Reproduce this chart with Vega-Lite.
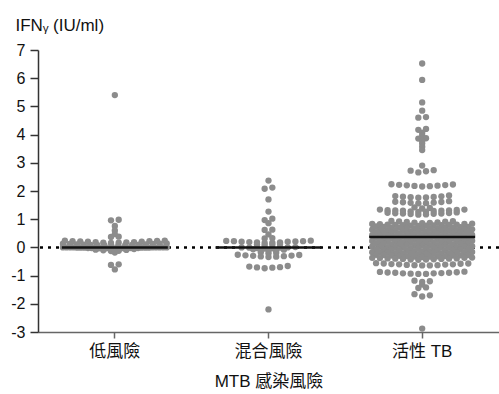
{
  "$schema": "https://vega.github.io/schema/vega-lite/v6.json",
  "width": 461,
  "height": 282,
  "autosize": {"type": "none"},
  "padding": {"left": 38, "top": 50, "right": 0, "bottom": 62},
  "background": "white",
  "config": {
    "view": {"stroke": null},
    "font": "Liberation Sans, DejaVu Sans, Noto Sans CJK TC",
    "axisY": {
      "grid": false, "labelOverlap": false, "labelFlush": false,
      "labelFontSize": 16, "labelColor": "#111", "labelPadding": 5, "tickSize": 8,
      "tickColor": "#333", "domainColor": "#333", "domainWidth": 1.5, "tickWidth": 1.5,
      "titleAngle": 0, "titleAlign": "left", "titleBaseline": "alphabetic",
      "titleX": -23, "titleY": -20, "titleFontSize": 17, "titleFontWeight": "normal", "titleColor": "#111"
    },
    "axisX": {
      "labelAngle": 0, "labelFontSize": 17, "labelColor": "#111",
      "labelPadding": 5, "tickSize": 6, "tickColor": "#666", "domainColor": "#666",
      "domainWidth": 1.5, "tickWidth": 1.5,
      "titleFontSize": 17, "titleFontWeight": "normal", "titleColor": "#111", "titlePadding": 14
    }
  },
  "data": {
    "values": [
      {"g": "低風險", "v": 5.4},
      {"g": "低風險", "v": 0.98}, {"g": "低風險", "v": 0.96},
      {"g": "低風險", "v": 0.76}, {"g": "低風險", "v": 0.6}, {"g": "低風險", "v": 0.47},
      {"g": "低風險", "v": 0.38}, {"g": "低風險", "v": 0.37},
      {"g": "低風險", "v": 0.16}, {"g": "低風險", "v": 0.17}, {"g": "低風險", "v": 0.17}, {"g": "低風險", "v": 0.18},
      {"g": "低風險", "v": 0.19}, {"g": "低風險", "v": 0.19}, {"g": "低風險", "v": 0.2}, {"g": "低風險", "v": 0.2},
      {"g": "低風險", "v": 0.21}, {"g": "低風險", "v": 0.22}, {"g": "低風險", "v": 0.22}, {"g": "低風險", "v": 0.23},
      {"g": "低風險", "v": 0.24}, {"g": "低風險", "v": 0.24},
      {"g": "低風險", "v": 0.06}, {"g": "低風險", "v": 0.07}, {"g": "低風險", "v": 0.07}, {"g": "低風險", "v": 0.08},
      {"g": "低風險", "v": 0.08}, {"g": "低風險", "v": 0.09}, {"g": "低風險", "v": 0.09}, {"g": "低風險", "v": 0.1},
      {"g": "低風險", "v": 0.1}, {"g": "低風險", "v": 0.11}, {"g": "低風險", "v": 0.11}, {"g": "低風險", "v": 0.12},
      {"g": "低風險", "v": 0.12}, {"g": "低風險", "v": 0.13}, {"g": "低風險", "v": 0.13}, {"g": "低風險", "v": 0.14},
      {"g": "低風險", "v": -0.04}, {"g": "低風險", "v": -0.04}, {"g": "低風險", "v": -0.04}, {"g": "低風險", "v": -0.04},
      {"g": "低風險", "v": -0.03}, {"g": "低風險", "v": -0.03}, {"g": "低風險", "v": -0.03}, {"g": "低風險", "v": -0.03},
      {"g": "低風險", "v": -0.03}, {"g": "低風險", "v": -0.02}, {"g": "低風險", "v": -0.02}, {"g": "低風險", "v": -0.02},
      {"g": "低風險", "v": -0.02}, {"g": "低風險", "v": -0.02}, {"g": "低風險", "v": -0.02}, {"g": "低風險", "v": -0.01},
      {"g": "低風險", "v": -0.01}, {"g": "低風險", "v": -0.01}, {"g": "低風險", "v": -0.01}, {"g": "低風險", "v": -0.01},
      {"g": "低風險", "v": -0.01}, {"g": "低風險", "v": 0}, {"g": "低風險", "v": 0}, {"g": "低風險", "v": 0},
      {"g": "低風險", "v": 0}, {"g": "低風險", "v": 0}, {"g": "低風險", "v": 0}, {"g": "低風險", "v": 0},
      {"g": "低風險", "v": 0}, {"g": "低風險", "v": 0},
      {"g": "低風險", "v": -0.06}, {"g": "低風險", "v": -0.08}, {"g": "低風險", "v": -0.09},
      {"g": "低風險", "v": -0.1}, {"g": "低風險", "v": -0.12}, {"g": "低風險", "v": -0.13},
      {"g": "低風險", "v": -0.18},
      {"g": "低風險", "v": -0.6}, {"g": "低風險", "v": -0.62}, {"g": "低風險", "v": -0.78},

      {"g": "混合風險", "v": 2.37}, {"g": "混合風險", "v": 2.12}, {"g": "混合風險", "v": 2.08},
      {"g": "混合風險", "v": 1.7}, {"g": "混合風險", "v": 1.27},
      {"g": "混合風險", "v": 1.02}, {"g": "混合風險", "v": 0.97}, {"g": "混合風險", "v": 0.86},
      {"g": "混合風險", "v": 0.63}, {"g": "混合風險", "v": 0.62}, {"g": "混合風險", "v": 0.46},
      {"g": "混合風險", "v": 0.33}, {"g": "混合風險", "v": 0.32},
      {"g": "混合風險", "v": 0.16}, {"g": "混合風險", "v": 0.17}, {"g": "混合風險", "v": 0.18}, {"g": "混合風險", "v": 0.18},
      {"g": "混合風險", "v": 0.19}, {"g": "混合風險", "v": 0.2}, {"g": "混合風險", "v": 0.2}, {"g": "混合風險", "v": 0.21},
      {"g": "混合風險", "v": 0.22}, {"g": "混合風險", "v": 0.22}, {"g": "混合風險", "v": 0.23}, {"g": "混合風險", "v": 0.24},
      {"g": "混合風險", "v": 0.08}, {"g": "混合風險", "v": 0.1}, {"g": "混合風險", "v": 0.11}, {"g": "混合風險", "v": 0.12},
      {"g": "混合風險", "v": -0.04}, {"g": "混合風險", "v": -0.03}, {"g": "混合風險", "v": -0.02}, {"g": "混合風險", "v": -0.01},
      {"g": "混合風險", "v": -0.01}, {"g": "混合風險", "v": 0}, {"g": "混合風險", "v": 0}, {"g": "混合風險", "v": 0.01},
      {"g": "混合風險", "v": -0.07}, {"g": "混合風險", "v": -0.08}, {"g": "混合風險", "v": -0.1}, {"g": "混合風險", "v": -0.11},
      {"g": "混合風險", "v": -0.12},
      {"g": "混合風險", "v": -0.17}, {"g": "混合風險", "v": -0.19}, {"g": "混合風險", "v": -0.21},
      {"g": "混合風險", "v": -0.26}, {"g": "混合風險", "v": -0.27}, {"g": "混合風險", "v": -0.28}, {"g": "混合風險", "v": -0.29},
      {"g": "混合風險", "v": -0.3}, {"g": "混合風險", "v": -0.31}, {"g": "混合風險", "v": -0.32}, {"g": "混合風險", "v": -0.33},
      {"g": "混合風險", "v": -0.34},
      {"g": "混合風險", "v": -0.66}, {"g": "混合風險", "v": -0.68}, {"g": "混合風險", "v": -0.7},
      {"g": "混合風險", "v": -0.71}, {"g": "混合風險", "v": -0.72}, {"g": "混合風險", "v": -0.74},
      {"g": "混合風險", "v": -2.2},

      {"g": "活性 TB", "v": 6.52}, {"g": "活性 TB", "v": 5.94}, {"g": "活性 TB", "v": 5.14}, {"g": "活性 TB", "v": 4.85},
      {"g": "活性 TB", "v": 4.62}, {"g": "活性 TB", "v": 4.6}, {"g": "活性 TB", "v": 4.2}, {"g": "活性 TB", "v": 4.17},
      {"g": "活性 TB", "v": 4.07}, {"g": "活性 TB", "v": 3.96}, {"g": "活性 TB", "v": 3.87}, {"g": "活性 TB", "v": 3.86},
      {"g": "活性 TB", "v": 3.78}, {"g": "活性 TB", "v": 3.69}, {"g": "活性 TB", "v": 3.57}, {"g": "活性 TB", "v": 3.45},
      {"g": "活性 TB", "v": 2.9}, {"g": "活性 TB", "v": 2.66}, {"g": "活性 TB", "v": 2.7}, {"g": "活性 TB", "v": 2.72},
      {"g": "活性 TB", "v": 2.74},
      {"g": "活性 TB", "v": 2.16}, {"g": "活性 TB", "v": 2.17}, {"g": "活性 TB", "v": 2.18}, {"g": "活性 TB", "v": 2.19},
      {"g": "活性 TB", "v": 2.2}, {"g": "活性 TB", "v": 2.21}, {"g": "活性 TB", "v": 2.22}, {"g": "活性 TB", "v": 2.23},
      {"g": "活性 TB", "v": 2.24},
      {"g": "活性 TB", "v": 1.76}, {"g": "活性 TB", "v": 1.77}, {"g": "活性 TB", "v": 1.78}, {"g": "活性 TB", "v": 1.79},
      {"g": "活性 TB", "v": 1.8}, {"g": "活性 TB", "v": 1.81}, {"g": "活性 TB", "v": 1.82}, {"g": "活性 TB", "v": 1.84},
      {"g": "活性 TB", "v": 1.56}, {"g": "活性 TB", "v": 1.57}, {"g": "活性 TB", "v": 1.58}, {"g": "活性 TB", "v": 1.59},
      {"g": "活性 TB", "v": 1.6}, {"g": "活性 TB", "v": 1.61}, {"g": "活性 TB", "v": 1.62}, {"g": "活性 TB", "v": 1.64},
      {"g": "活性 TB", "v": 1.38}, {"g": "活性 TB", "v": 1.4}, {"g": "活性 TB", "v": 1.42},
      {"g": "活性 TB", "v": 1.26}, {"g": "活性 TB", "v": 1.27}, {"g": "活性 TB", "v": 1.28}, {"g": "活性 TB", "v": 1.29},
      {"g": "活性 TB", "v": 1.3}, {"g": "活性 TB", "v": 1.3}, {"g": "活性 TB", "v": 1.31}, {"g": "活性 TB", "v": 1.31},
      {"g": "活性 TB", "v": 1.32}, {"g": "活性 TB", "v": 1.33}, {"g": "活性 TB", "v": 1.34}, {"g": "活性 TB", "v": 1.34},
      {"g": "活性 TB", "v": 1.16}, {"g": "活性 TB", "v": 1.17}, {"g": "活性 TB", "v": 1.18}, {"g": "活性 TB", "v": 1.19},
      {"g": "活性 TB", "v": 1.2}, {"g": "活性 TB", "v": 1.2}, {"g": "活性 TB", "v": 1.21}, {"g": "活性 TB", "v": 1.22},
      {"g": "活性 TB", "v": 1.23}, {"g": "活性 TB", "v": 1.24},
      {"g": "活性 TB", "v": 0.86}, {"g": "活性 TB", "v": 0.87}, {"g": "活性 TB", "v": 0.88}, {"g": "活性 TB", "v": 0.89},
      {"g": "活性 TB", "v": 0.9}, {"g": "活性 TB", "v": 0.91}, {"g": "活性 TB", "v": 0.92}, {"g": "活性 TB", "v": 0.93},
      {"g": "活性 TB", "v": 0.94},
      {"g": "活性 TB", "v": 0.76}, {"g": "活性 TB", "v": 0.77}, {"g": "活性 TB", "v": 0.77}, {"g": "活性 TB", "v": 0.78},
      {"g": "活性 TB", "v": 0.79}, {"g": "活性 TB", "v": 0.79}, {"g": "活性 TB", "v": 0.8}, {"g": "活性 TB", "v": 0.8},
      {"g": "活性 TB", "v": 0.81}, {"g": "活性 TB", "v": 0.81}, {"g": "活性 TB", "v": 0.82}, {"g": "活性 TB", "v": 0.83},
      {"g": "活性 TB", "v": 0.83}, {"g": "活性 TB", "v": 0.84},
      {"g": "活性 TB", "v": 0.66}, {"g": "活性 TB", "v": 0.67}, {"g": "活性 TB", "v": 0.67}, {"g": "活性 TB", "v": 0.68},
      {"g": "活性 TB", "v": 0.69}, {"g": "活性 TB", "v": 0.69}, {"g": "活性 TB", "v": 0.7},
      {"g": "活性 TB", "v": 0.71}, {"g": "活性 TB", "v": 0.71}, {"g": "活性 TB", "v": 0.72}, {"g": "活性 TB", "v": 0.73},
      {"g": "活性 TB", "v": 0.73}, {"g": "活性 TB", "v": 0.74},
      {"g": "活性 TB", "v": 0.56}, {"g": "活性 TB", "v": 0.57}, {"g": "活性 TB", "v": 0.57}, {"g": "活性 TB", "v": 0.58},
      {"g": "活性 TB", "v": 0.59}, {"g": "活性 TB", "v": 0.59}, {"g": "活性 TB", "v": 0.6}, {"g": "活性 TB", "v": 0.6},
      {"g": "活性 TB", "v": 0.61}, {"g": "活性 TB", "v": 0.61}, {"g": "活性 TB", "v": 0.62}, {"g": "活性 TB", "v": 0.63},
      {"g": "活性 TB", "v": 0.63}, {"g": "活性 TB", "v": 0.64},
      {"g": "活性 TB", "v": 0.46}, {"g": "活性 TB", "v": 0.47}, {"g": "活性 TB", "v": 0.47}, {"g": "活性 TB", "v": 0.48},
      {"g": "活性 TB", "v": 0.49}, {"g": "活性 TB", "v": 0.49}, {"g": "活性 TB", "v": 0.5},
      {"g": "活性 TB", "v": 0.51}, {"g": "活性 TB", "v": 0.51}, {"g": "活性 TB", "v": 0.52}, {"g": "活性 TB", "v": 0.53},
      {"g": "活性 TB", "v": 0.53}, {"g": "活性 TB", "v": 0.54},
      {"g": "活性 TB", "v": 0.36}, {"g": "活性 TB", "v": 0.37}, {"g": "活性 TB", "v": 0.37}, {"g": "活性 TB", "v": 0.38},
      {"g": "活性 TB", "v": 0.39}, {"g": "活性 TB", "v": 0.39}, {"g": "活性 TB", "v": 0.4}, {"g": "活性 TB", "v": 0.4},
      {"g": "活性 TB", "v": 0.41}, {"g": "活性 TB", "v": 0.41}, {"g": "活性 TB", "v": 0.42}, {"g": "活性 TB", "v": 0.43},
      {"g": "活性 TB", "v": 0.43}, {"g": "活性 TB", "v": 0.44},
      {"g": "活性 TB", "v": 0.26}, {"g": "活性 TB", "v": 0.27}, {"g": "活性 TB", "v": 0.27}, {"g": "活性 TB", "v": 0.28},
      {"g": "活性 TB", "v": 0.29}, {"g": "活性 TB", "v": 0.29}, {"g": "活性 TB", "v": 0.3},
      {"g": "活性 TB", "v": 0.31}, {"g": "活性 TB", "v": 0.31}, {"g": "活性 TB", "v": 0.32}, {"g": "活性 TB", "v": 0.33},
      {"g": "活性 TB", "v": 0.33}, {"g": "活性 TB", "v": 0.34},
      {"g": "活性 TB", "v": 0.16}, {"g": "活性 TB", "v": 0.17}, {"g": "活性 TB", "v": 0.17}, {"g": "活性 TB", "v": 0.18},
      {"g": "活性 TB", "v": 0.19}, {"g": "活性 TB", "v": 0.19}, {"g": "活性 TB", "v": 0.2}, {"g": "活性 TB", "v": 0.2},
      {"g": "活性 TB", "v": 0.21}, {"g": "活性 TB", "v": 0.21}, {"g": "活性 TB", "v": 0.22}, {"g": "活性 TB", "v": 0.23},
      {"g": "活性 TB", "v": 0.23}, {"g": "活性 TB", "v": 0.24},
      {"g": "活性 TB", "v": 0.06}, {"g": "活性 TB", "v": 0.07}, {"g": "活性 TB", "v": 0.07}, {"g": "活性 TB", "v": 0.08},
      {"g": "活性 TB", "v": 0.09}, {"g": "活性 TB", "v": 0.09}, {"g": "活性 TB", "v": 0.1},
      {"g": "活性 TB", "v": 0.11}, {"g": "活性 TB", "v": 0.11}, {"g": "活性 TB", "v": 0.12}, {"g": "活性 TB", "v": 0.13},
      {"g": "活性 TB", "v": 0.13}, {"g": "活性 TB", "v": 0.14},
      {"g": "活性 TB", "v": -0.04}, {"g": "活性 TB", "v": -0.03}, {"g": "活性 TB", "v": -0.03}, {"g": "活性 TB", "v": -0.02},
      {"g": "活性 TB", "v": -0.01}, {"g": "活性 TB", "v": -0.01}, {"g": "活性 TB", "v": 0}, {"g": "活性 TB", "v": 0},
      {"g": "活性 TB", "v": 0.01}, {"g": "活性 TB", "v": 0.01}, {"g": "活性 TB", "v": 0.02}, {"g": "活性 TB", "v": 0.03},
      {"g": "活性 TB", "v": 0.03}, {"g": "活性 TB", "v": 0.04},
      {"g": "活性 TB", "v": -0.06}, {"g": "活性 TB", "v": -0.07}, {"g": "活性 TB", "v": -0.07}, {"g": "活性 TB", "v": -0.08},
      {"g": "活性 TB", "v": -0.09}, {"g": "活性 TB", "v": -0.09}, {"g": "活性 TB", "v": -0.1},
      {"g": "活性 TB", "v": -0.11}, {"g": "活性 TB", "v": -0.11}, {"g": "活性 TB", "v": -0.12}, {"g": "活性 TB", "v": -0.13},
      {"g": "活性 TB", "v": -0.13}, {"g": "活性 TB", "v": -0.14},
      {"g": "活性 TB", "v": -0.16}, {"g": "活性 TB", "v": -0.17}, {"g": "活性 TB", "v": -0.17}, {"g": "活性 TB", "v": -0.18},
      {"g": "活性 TB", "v": -0.19}, {"g": "活性 TB", "v": -0.19}, {"g": "活性 TB", "v": -0.2}, {"g": "活性 TB", "v": -0.2},
      {"g": "活性 TB", "v": -0.21}, {"g": "活性 TB", "v": -0.21}, {"g": "活性 TB", "v": -0.22}, {"g": "活性 TB", "v": -0.23},
      {"g": "活性 TB", "v": -0.23}, {"g": "活性 TB", "v": -0.24},
      {"g": "活性 TB", "v": -0.26}, {"g": "活性 TB", "v": -0.27}, {"g": "活性 TB", "v": -0.27}, {"g": "活性 TB", "v": -0.28},
      {"g": "活性 TB", "v": -0.29}, {"g": "活性 TB", "v": -0.29}, {"g": "活性 TB", "v": -0.3},
      {"g": "活性 TB", "v": -0.31}, {"g": "活性 TB", "v": -0.31}, {"g": "活性 TB", "v": -0.32}, {"g": "活性 TB", "v": -0.33},
      {"g": "活性 TB", "v": -0.33}, {"g": "活性 TB", "v": -0.34},
      {"g": "活性 TB", "v": -0.36}, {"g": "活性 TB", "v": -0.37}, {"g": "活性 TB", "v": -0.37}, {"g": "活性 TB", "v": -0.38},
      {"g": "活性 TB", "v": -0.39}, {"g": "活性 TB", "v": -0.39}, {"g": "活性 TB", "v": -0.4}, {"g": "活性 TB", "v": -0.4},
      {"g": "活性 TB", "v": -0.41}, {"g": "活性 TB", "v": -0.41}, {"g": "活性 TB", "v": -0.42}, {"g": "活性 TB", "v": -0.43},
      {"g": "活性 TB", "v": -0.43}, {"g": "活性 TB", "v": -0.44},
      {"g": "活性 TB", "v": -0.56}, {"g": "活性 TB", "v": -0.57}, {"g": "活性 TB", "v": -0.57}, {"g": "活性 TB", "v": -0.58},
      {"g": "活性 TB", "v": -0.59}, {"g": "活性 TB", "v": -0.6}, {"g": "活性 TB", "v": -0.6}, {"g": "活性 TB", "v": -0.61},
      {"g": "活性 TB", "v": -0.62}, {"g": "活性 TB", "v": -0.63}, {"g": "活性 TB", "v": -0.63}, {"g": "活性 TB", "v": -0.64},
      {"g": "活性 TB", "v": -0.64},
      {"g": "活性 TB", "v": -0.86}, {"g": "活性 TB", "v": -0.87}, {"g": "活性 TB", "v": -0.88}, {"g": "活性 TB", "v": -0.89},
      {"g": "活性 TB", "v": -0.9}, {"g": "活性 TB", "v": -0.9}, {"g": "活性 TB", "v": -0.91}, {"g": "活性 TB", "v": -0.92},
      {"g": "活性 TB", "v": -0.92}, {"g": "活性 TB", "v": -0.93}, {"g": "活性 TB", "v": -0.94}, {"g": "活性 TB", "v": -0.94},
      {"g": "活性 TB", "v": -1.18}, {"g": "活性 TB", "v": -1.2}, {"g": "活性 TB", "v": -1.22},
      {"g": "活性 TB", "v": -1.32}, {"g": "活性 TB", "v": -1.42}, {"g": "活性 TB", "v": -1.44},
      {"g": "活性 TB", "v": -1.66}, {"g": "活性 TB", "v": -1.7}, {"g": "活性 TB", "v": -1.74},
      {"g": "活性 TB", "v": -2.88}
    ]
  },
  "layer": [
    {
      "data": {"values": [{}]},
      "mark": {"type": "rule", "color": "#000", "strokeWidth": 2.5, "strokeDash": [3, 5]},
      "encoding": {
        "y": {
          "datum": 0, "type": "quantitative", "title": "IFNᵧ (IU/ml)",
          "scale": {"domain": [-3, 7], "nice": false, "zero": false},
          "axis": {"tickCount": 10, "labelOverlap": false, "labelExpr": "'' + datum.value"}
        }
      }
    },
    {
      "transform": [
        {"calculate": "floor(datum.v * 10 + 0.5)", "as": "row"},
        {"window": [{"op": "row_number", "as": "k"}], "groupby": ["g", "row"], "sort": [{"field": "v", "order": "ascending"}], "frame": [null, null]},
        {"joinaggregate": [{"op": "count", "as": "n"}], "groupby": ["g", "row"]},
        {"calculate": "((datum.k % 2 == 0) ? datum.k / 2 : -(datum.k - 1) / 2) - (datum.n % 2 == 0 ? 0.5 : 0)", "as": "slot"},
        {"calculate": "datum.slot * min(1, 13.5 / max(1, datum.n - 1))", "as": "off"}
      ],
      "mark": {"type": "circle", "size": 40, "opacity": 1, "color": "#8c8c8c"},
      "encoding": {
        "x": {
          "field": "g", "type": "nominal", "sort": ["低風險", "混合風險", "活性 TB"],
          "scale": {"paddingInner": 0, "paddingOuter": 0},
          "title": "MTB 感染風險"
        },
        "xOffset": {"field": "off", "type": "quantitative", "scale": {"domain": [-10, 10], "nice": false, "zero": false}},
        "y": {
          "field": "v", "type": "quantitative", "title": "IFNᵧ (IU/ml)",
          "axis": {"tickCount": 10, "labelOverlap": false, "labelExpr": "'' + datum.value"}
        }
      }
    },
    {
      "mark": {"type": "tick", "color": "#111", "size": 106, "thickness": 2.5},
      "encoding": {
        "x": {"field": "g", "type": "nominal", "sort": ["低風險", "混合風險", "活性 TB"], "title": "MTB 感染風險"},
        "y": {
          "aggregate": "median", "field": "v", "type": "quantitative", "title": "IFNᵧ (IU/ml)",
          "axis": {"tickCount": 10, "labelOverlap": false, "labelExpr": "'' + datum.value"}
        }
      }
    }
  ]
}
